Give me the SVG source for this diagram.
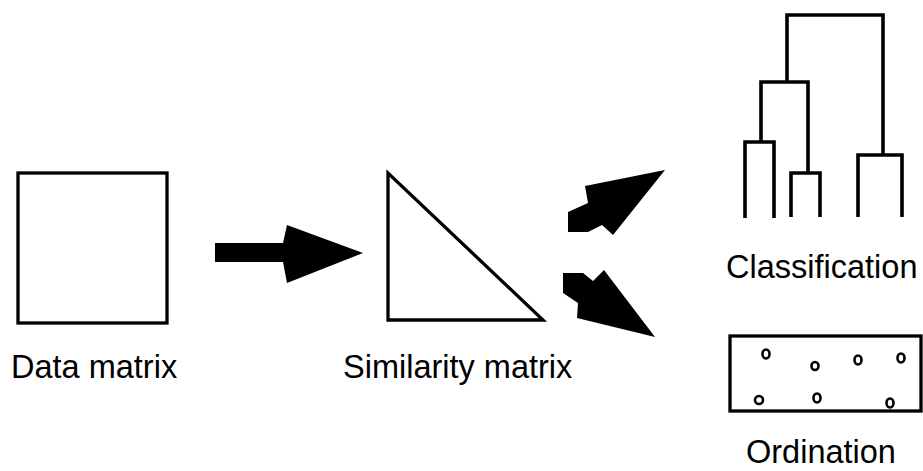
<svg xmlns="http://www.w3.org/2000/svg" width="923" height="471" viewBox="0 0 923 471">
<style>
.box{fill:none;stroke:#000;stroke-width:3.3}
.dend{fill:none;stroke:#000;stroke-width:3.6;stroke-linejoin:miter;stroke-linecap:butt}
.arrow{fill:#000;stroke:none}
.pt{fill:none;stroke:#000;stroke-width:2.6}
.lbl{font-family:"Liberation Sans",Arial,Helvetica,sans-serif;font-size:32.5px;fill:#000}
</style>
<rect width="923" height="471" fill="#fff"/>
<g id="data-matrix">
<rect class="box" x="18" y="173" width="149" height="150"/>
<text class="lbl" x="11" y="378">Data matrix</text>
</g>
<g id="similarity-matrix">
<polygon class="box" points="388,173 388,320 543,320"/>
<text class="lbl" x="343" y="378">Similarity matrix</text>
</g>
<g id="classification">
<path class="dend" d="M787,82 V15 H883 V155 M761,142 V82 H808 V173 M745,218 V142 H774 V218 M791,217 V173 H820 V217 M858,217 V155 H902 V217"/>
<text class="lbl" x="726" y="278">Classification</text>
</g>
<g id="ordination">
<rect class="box" x="730" y="336" width="191" height="75"/>
<ellipse class="pt" cx="766" cy="354" rx="3.5" ry="4.5"/>
<ellipse class="pt" cx="815" cy="366" rx="3.5" ry="4"/>
<ellipse class="pt" cx="858" cy="360" rx="3.5" ry="4.5"/>
<ellipse class="pt" cx="901" cy="358" rx="3.5" ry="4.5"/>
<ellipse class="pt" cx="759" cy="400" rx="4" ry="4"/>
<ellipse class="pt" cx="817" cy="398" rx="3.5" ry="4.5"/>
<ellipse class="pt" cx="890" cy="403" rx="3.5" ry="4.5"/>
<text class="lbl" x="746" y="463">Ordination</text>
</g>
<g id="connectors">
<polygon class="arrow" points="215,243 283,243 287,225 363,253 287,283 283,262 215,262"/>
<polygon class="arrow" points="665,170 585,186 588,203 568,212 568,232 588,232 602,225 613,235"/>
<polygon class="arrow" points="563,273 583,273 593,281 604,270 655,337 577,318 578,303 563,293"/>
</g>
</svg>
